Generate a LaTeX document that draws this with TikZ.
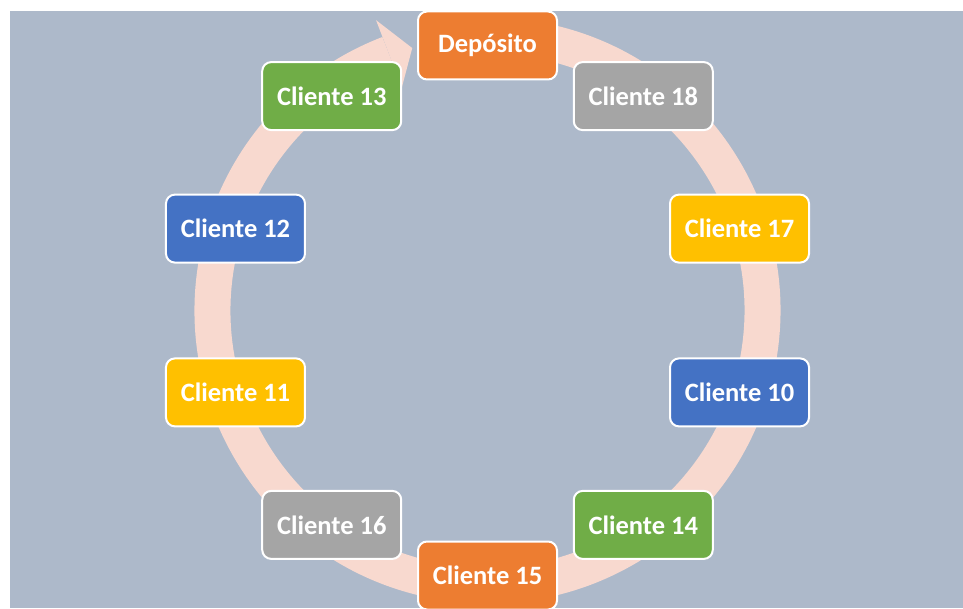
\documentclass[tikz,border=0pt]{standalone}
\usepackage{fontspec}
\setmainfont{Carlito}
\usepackage{xcolor}
\usetikzlibrary{shapes,positioning}
\definecolor{fondo}{HTML}{ADB9CA}
\definecolor{anillo}{HTML}{F8D9CF}
\definecolor{naranja}{HTML}{ED7D31}
\definecolor{gris}{HTML}{A5A5A5}
\definecolor{amarillo}{HTML}{FFC000}
\definecolor{azul}{HTML}{4472C4}
\definecolor{verde}{HTML}{70AD47}

\begin{document}
\begin{tikzpicture}[x=1pt, y=1pt]
  \tikzstyle{cliente}=[rectangle, draw=white, line width=2pt, rounded corners=9pt, minimum width=139pt, minimum height=68pt, text=white, font=\fontsize{26.5}{30}\selectfont\bfseries]
  \tikzstyle{c-naranja}=[fill=naranja]
  \tikzstyle{c-gris}=[fill=gris]
  \tikzstyle{c-amarillo}=[fill=amarillo]
  \tikzstyle{c-azul}=[fill=azul]
  \tikzstyle{c-verde}=[fill=verde]

  % Fondo
  \useasboundingbox (-487.5,-297.5) rectangle (475.5,310.5);
  \fill[fondo] (-477.5,-297.5) rectangle (475.5,299.5);

  % Flecha circular
  \draw[anillo, line width=36pt] (80:275) arc[start angle=80, end angle=-249, radius=275];
  \fill[anillo] (111:311) -- (106:273) -- (111:239) -- cycle;

  % Ruta
  \node[cliente, c-naranja] (deposito) at (90:265) {Depósito};
  \node[cliente, c-gris] (c18) at (54:265) {Cliente 18};
  \node[cliente, c-amarillo] (c17) at (18:265) {Cliente 17};
  \node[cliente, c-azul] (c10) at (-18:265) {Cliente 10};
  \node[cliente, c-verde] (c14) at (-54:265) {Cliente 14};
  \node[cliente, c-naranja] (c15) at (-90:265) {Cliente 15};
  \node[cliente, c-gris] (c16) at (-126:265) {Cliente 16};
  \node[cliente, c-amarillo] (c11) at (-162:265) {Cliente 11};
  \node[cliente, c-azul] (c12) at (162:265) {Cliente 12};
  \node[cliente, c-verde] (c13) at (126:265) {Cliente 13};
\end{tikzpicture}
\end{document}
